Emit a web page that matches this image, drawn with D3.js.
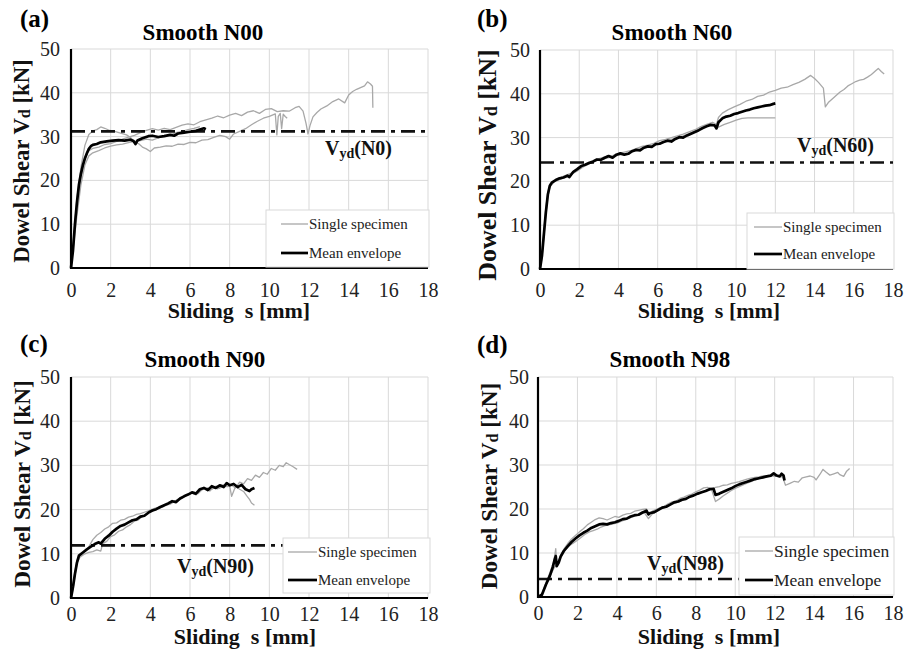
<!DOCTYPE html>
<html>
<head>
<meta charset="utf-8">
<script src="https://cdn.jsdelivr.net/npm/d3@7"></script>
<style>
  body { margin: 0; background: #fff; }
</style>
</head>
<body>
<svg id="chart" width="904" height="650"></svg>
<script>
// ---- data ----
const xTicks = [0, 2, 4, 6, 8, 10, 12, 14, 16, 18];
const yTicks = [0, 10, 20, 30, 40, 50];
const panelLabels = ["(a)", "(b)", "(c)", "(d)"];
const panelTitles = ["Smooth N00", "Smooth N60", "Smooth N90", "Smooth N98"];
const vydNames = ["(N0)", "(N60)", "(N90)", "(N98)"];
const vydValues = [31.2, 24.3, 11.9, 4.1];
const legendLabels = ["Single specimen", "Mean envelope"];

// N00
const a_single1 = [[0,0],[0.15,8],[0.3,16],[0.5,23],[0.7,28],[0.9,30.5],[1.1,31.3],[1.3,31.6],[1.5,32.2],[1.7,31.9],[1.9,31.5],[2.2,31.2],[2.5,30.8],[2.8,30.4],[3.0,29.8],[3.2,28.8],[3.4,28.4],[3.6,27.6],[3.8,27.2],[4.0,26.6],[4.2,27.4],[4.5,27.6],[4.8,27.9],[5.1,27.8],[5.4,28.3],[5.7,28.2],[6.0,28.7],[6.3,28.6],[6.6,29.2],[6.9,29.3],[7.2,29.8],[7.5,30.3],[7.8,30],[8.0,29.4],[8.2,30.6],[8.5,31.2],[8.8,31.8],[9.1,32.7],[9.4,33.5],[9.7,34.2],[10.0,34.6],[10.3,35.2],[10.38,30.4],[10.45,34.6],[10.55,35.3],[10.62,31.8],[10.7,35.1],[10.8,34.6],[10.9,34.2]];
const a_single2 = [[0,0],[0.15,7],[0.3,14],[0.5,21],[0.7,25],[0.9,26.8],[1.1,27.3],[1.4,27.6],[1.7,28.2],[2.0,28.4],[2.3,28.9],[2.6,29.4],[2.9,29.9],[3.2,30.3],[3.5,30.9],[3.8,31.4],[4.1,31.8],[4.4,31.5],[4.7,31.9],[5.0,31.6],[5.3,32.1],[5.6,32.6],[5.9,32.9],[6.2,32.7],[6.5,33.4],[6.8,33.8],[7.1,34.2],[7.4,34.7],[7.7,34.3],[8.0,34.9],[8.3,35.3],[8.6,34.8],[8.9,35.6],[9.2,35.9],[9.5,35.3],[9.8,36.2],[10.1,36.4],[10.4,35.7],[10.7,35.9],[11.0,35.8],[11.3,36.6],[11.5,36.9],[11.7,35.8],[11.85,33],[11.95,30.6],[12.05,32.5],[12.2,34.5],[12.4,35.5],[12.6,36.3],[12.9,37],[13.2,38],[13.5,38.6],[13.8,37.7],[14.0,39.5],[14.2,40.3],[14.4,40.8],[14.6,41.2],[14.8,41.6],[14.95,42.5],[15.1,42],[15.2,41.5],[15.22,36.6]];
const a_single3 = [[0,0],[0.15,6],[0.3,12],[0.5,19],[0.7,23.5],[0.9,25.6],[1.1,26.3],[1.4,26.8],[1.7,27.4],[2.0,27.8],[2.3,28.1],[2.6,28.3],[2.9,28.6],[3.2,28.9],[3.5,29.1],[3.8,29.4],[4.1,29.2],[4.4,29.7],[4.7,30.1],[5.0,30.4],[5.3,30.9],[5.6,31.2],[5.9,31.6],[6.2,31.9],[6.5,32.3]];
const a_mean = [[0,0],[0.1,4],[0.2,10],[0.3,15],[0.4,19],[0.5,21.5],[0.6,23.5],[0.7,25],[0.8,26.2],[0.9,27.2],[1.0,27.8],[1.1,28.1],[1.3,28.3],[1.5,28.7],[1.8,28.9],[2.1,29.1],[2.4,29.2],[2.7,29.1],[3.0,29.3],[3.15,29],[3.25,28.3],[3.35,29.1],[3.6,29.6],[3.9,30.1],[4.1,30.2],[4.4,29.9],[4.7,30.1],[5.0,30.4],[5.2,30.2],[5.4,30.7],[5.7,30.9],[6.0,31.1],[6.3,31.3],[6.5,31.6],[6.7,31.9],[6.8,31.7]];

// N60
const b_single1 = [[0,0],[0.1,3.5],[0.2,9],[0.3,14],[0.4,17.5],[0.5,19.3],[0.7,20.1],[0.9,20.5],[1.1,21],[1.3,21.4],[1.6,21.9],[1.9,22.9],[2.2,23.6],[2.5,24.4],[2.8,24.9],[3.1,25.3],[3.4,25.7],[3.7,25.9],[4.0,26.4],[4.3,26.7],[4.6,27],[4.9,27.5],[5.2,28],[5.5,28.3],[5.8,28.7],[6.1,29.3],[6.4,29.6],[6.7,30],[7.0,30.4],[7.3,30.8],[7.6,31.3],[7.9,31.8],[8.2,32.5],[8.5,33],[8.8,33.5],[9.0,33],[9.1,34.6],[9.3,35.6],[9.6,36.4],[9.9,37],[10.2,37.6],[10.5,38.3],[10.8,38.7],[11.1,39.4],[11.4,39.7],[11.7,40.4],[12.0,40.8],[12.3,41.3],[12.6,41.5],[12.9,42.1],[13.2,42.6],[13.5,43.3],[13.8,44.2],[14.0,43.5],[14.2,42.6],[14.45,41.3],[14.55,37],[14.7,38],[14.9,38.8],[15.1,39.6],[15.3,40.4],[15.5,41],[15.7,41.8],[15.9,42.3],[16.1,42.8],[16.3,43.1],[16.5,43.3],[16.7,43.8],[16.9,44.4],[17.1,45.2],[17.25,45.8],[17.4,45.1],[17.55,44.5]];
const b_single2 = [[0,0],[0.1,2.5],[0.2,7.5],[0.3,12.5],[0.4,16.5],[0.5,18.7],[0.7,19.8],[0.9,20.2],[1.1,20.6],[1.3,21],[1.6,21.6],[1.9,22.4],[2.2,23.3],[2.5,24],[2.8,24.6],[3.1,25],[3.4,25.3],[3.7,25.6],[4.0,26],[4.3,26.2],[4.6,26.6],[4.9,27.1],[5.2,27.6],[5.5,27.9],[5.8,28.3],[6.1,28.8],[6.4,29.2],[6.7,29.6],[7.0,30],[7.3,30.4],[7.6,30.9],[7.9,31.5],[8.2,32],[8.5,32.6],[8.8,33],[9.1,32.4],[9.4,33],[9.7,33.5],[10.0,34],[10.3,34.4],[10.6,34.5],[12.0,34.5]];
const b_mean = [[0,0],[0.1,3],[0.2,8],[0.3,13],[0.4,17],[0.5,19],[0.6,19.7],[0.8,20.3],[1.0,20.7],[1.2,20.9],[1.4,21.3],[1.5,21],[1.7,22.2],[1.9,22.8],[2.1,23.5],[2.3,23.8],[2.5,24.2],[2.7,24.5],[2.9,25],[3.1,24.9],[3.3,25.4],[3.5,25.8],[3.7,25.4],[3.9,26.1],[4.1,26.4],[4.3,26.1],[4.5,26.3],[4.7,26.9],[4.9,27.2],[5.1,27.1],[5.3,27.7],[5.5,28],[5.7,27.9],[5.9,28.5],[6.1,28.6],[6.3,29],[6.5,29.3],[6.7,29.1],[6.9,29.7],[7.1,30.1],[7.3,30],[7.5,30.5],[7.7,30.9],[7.9,31.3],[8.1,31.7],[8.3,32.2],[8.5,32.6],[8.7,32.9],[8.9,32.8],[9.0,32.1],[9.1,33.5],[9.3,34.4],[9.5,34.8],[9.7,35],[9.9,35.4],[10.1,35.6],[10.3,35.9],[10.5,36.2],[10.7,36.4],[10.9,36.7],[11.1,36.9],[11.3,37.1],[11.5,37.3],[11.7,37.4],[11.9,37.7],[12.0,37.8]];

// N90
const c_single1 = [[0,0],[0.1,3],[0.2,6],[0.3,8.5],[0.45,9.8],[0.7,10.5],[0.9,11.6],[1.1,13.2],[1.3,14.2],[1.5,14.8],[1.7,15.6],[1.9,16.1],[2.1,16.9],[2.3,17],[2.5,17.6],[2.7,17.8],[2.9,18.3],[3.1,18.5],[3.3,18.9],[3.5,19.1],[3.7,19.4],[3.9,19.7],[4.1,20.1],[4.3,20.4],[4.5,20.6],[4.7,21.1],[4.9,21.3],[5.1,21.7],[5.3,22.1],[5.5,22.6],[5.7,22.9],[5.9,23.5],[6.1,23.8],[6.3,23.3],[6.5,24.3],[6.7,24.7],[6.9,24.9],[7.1,24.6],[7.3,25.3],[7.5,24.8],[7.7,25.6],[7.9,25.2],[8.1,25.5],[8.3,24.9],[8.5,26.2],[8.7,25.8],[8.9,27],[9.1,26.6],[9.3,27.8],[9.5,27.3],[9.7,28.4],[9.9,28],[10.1,29.3],[10.3,28.9],[10.5,30],[10.7,29.7],[10.85,30.6],[11.0,30.2],[11.2,29.7],[11.4,29.1]];
const c_single2 = [[0,0],[0.1,2],[0.2,5],[0.3,7.8],[0.45,9.2],[0.7,10],[0.9,10.3],[1.1,10.5],[1.3,10.9],[1.5,10.6],[1.6,12.3],[1.8,12.8],[2.0,13.9],[2.2,14.3],[2.4,15.1],[2.6,15.4],[2.8,16.1],[3.0,16.6],[3.2,17.4],[3.4,17.7],[3.6,18.5],[3.8,18.9],[4.0,19.5],[4.2,19.8],[4.4,20.3],[4.6,20.5],[4.8,21.1],[5.0,21.2],[5.2,21.8],[5.4,22.3],[5.6,22.6],[5.8,23.2],[6.0,23.5],[6.2,24],[6.4,23.6],[6.6,24.5],[6.8,24.9],[7.0,24.2],[7.2,25.1],[7.4,24.7],[7.6,25.6],[7.8,25.2],[8.0,25.3],[8.1,23],[8.3,25.3],[8.5,24.6],[8.7,24.1],[8.9,22.9],[9.0,22.3],[9.1,21.5],[9.25,21]];
const c_mean = [[0,0],[0.1,2.5],[0.2,5.5],[0.3,8],[0.4,9.6],[0.6,10.3],[0.8,11],[1.0,11.6],[1.2,12.2],[1.4,12.6],[1.5,12.3],[1.7,13.4],[1.9,14.1],[2.1,15],[2.3,15.7],[2.5,16.3],[2.7,16.6],[2.9,17.1],[3.1,17.6],[3.3,17.8],[3.5,18.4],[3.7,18.6],[3.9,19.3],[4.1,19.8],[4.3,20.1],[4.5,20.6],[4.7,21],[4.9,21.4],[5.1,21.9],[5.3,21.7],[5.5,22.5],[5.7,23],[5.9,23.4],[6.1,23.9],[6.3,23.6],[6.5,24.6],[6.7,24.9],[6.9,24.4],[7.1,25.3],[7.3,24.9],[7.5,25.5],[7.7,25.1],[7.85,26],[8.0,25.5],[8.2,25.8],[8.4,25.1],[8.6,25.6],[8.8,24.6],[9.0,24.2],[9.1,24.6],[9.25,24.9]];

// N98
const d_single1 = [[0,0],[0.2,0.8],[0.4,3.2],[0.6,5.5],[0.8,8],[0.9,11],[0.95,7.5],[1.1,8.9],[1.3,10.8],[1.5,12.1],[1.7,13.2],[1.9,14],[2.1,14.8],[2.3,15.5],[2.5,16.4],[2.7,17],[2.9,17.6],[3.1,18],[3.3,17.8],[3.5,17.5],[3.7,17.9],[3.9,18.3],[4.1,18.1],[4.3,18.6],[4.5,18.9],[4.7,19],[4.9,19.5],[5.1,19.7],[5.3,19.9],[5.5,20],[5.6,18.6],[5.8,19.5],[6.0,19.9],[6.2,20.3],[6.4,20.6],[6.6,21.2],[6.8,21.6],[7.0,21.8],[7.2,22.4],[7.4,22.7],[7.6,23.1],[7.8,23.4],[8.0,23.9],[8.2,24.3],[8.4,24.8],[8.6,24.9],[8.8,24.5],[9.0,24.9],[9.2,25.1],[9.4,25.4],[9.6,25.5],[9.8,25.8],[10.0,26],[10.2,26.2],[10.4,26.5],[10.6,26.8],[10.8,27],[11.0,27.2],[11.2,27.3],[11.4,27.5],[11.6,27.6],[11.8,27.5],[12.0,27.8],[12.2,27.5],[12.4,27.3],[12.55,25.4],[12.8,25.9],[13.0,26.3],[13.2,26.1],[13.4,27.1],[13.6,27.3],[13.8,27.5],[14.0,27.2],[14.1,26.6],[14.3,27.9],[14.45,29],[14.6,28.4],[14.8,27.7],[15.0,28],[15.2,28.3],[15.3,27.8],[15.5,27.4],[15.65,28.6],[15.8,29.2]];
const d_single2 = [[0,0],[0.2,0.6],[0.4,2.6],[0.6,4.6],[0.8,6.5],[1.0,7.8],[1.2,9.4],[1.4,10.8],[1.6,11.7],[1.8,12.3],[2.0,12.9],[2.2,13.6],[2.4,14.3],[2.6,14.8],[2.8,15.1],[3.0,15.4],[3.2,15.9],[3.4,16.2],[3.6,16.4],[3.8,16.6],[4.0,16.8],[4.2,17.2],[4.4,17.5],[4.6,17.9],[4.8,18.2],[5.0,18.5],[5.2,18.9],[5.4,19.1],[5.6,17.8],[5.8,18.9],[6.0,19.4],[6.2,19.9],[6.4,20.3],[6.6,20.7],[6.8,21.1],[7.0,21.4],[7.2,21.7],[7.4,22.1],[7.6,22.5],[7.8,22.9],[8.0,23.3],[8.2,23.6],[8.4,24],[8.6,24.2],[8.8,24.4],[9.0,21.7],[9.2,22.3],[9.4,23],[9.6,23.6],[9.8,24.2],[10.0,24.7],[10.2,25.1],[10.4,25.5],[10.6,25.9],[10.8,26.2],[11.0,26.6],[11.2,26.9],[11.4,27.1],[11.6,27.3],[11.8,27.6],[12.0,27.4],[12.2,27.7],[12.4,27.3],[12.5,26.8]];
const d_mean = [[0,0],[0.2,0.5],[0.4,2.8],[0.6,4.8],[0.75,6.8],[0.85,8.6],[0.9,9.3],[0.95,7],[1.05,7.8],[1.15,9.2],[1.3,10.4],[1.5,11.5],[1.7,12.5],[1.9,13.3],[2.1,14],[2.3,14.6],[2.5,15.1],[2.7,15.7],[2.9,16.1],[3.1,16.5],[3.3,16.6],[3.5,16.5],[3.7,16.8],[3.9,17],[4.1,17.3],[4.3,17.7],[4.5,17.8],[4.7,18.3],[4.9,18.6],[5.1,18.7],[5.3,19.2],[5.5,19.6],[5.6,18.8],[5.7,19.1],[5.9,19.3],[6.1,19.8],[6.3,20.3],[6.5,20.5],[6.7,21],[6.9,21.5],[7.1,21.7],[7.3,22.1],[7.5,22.3],[7.7,22.8],[7.9,23.1],[8.1,23.5],[8.3,23.8],[8.5,24.1],[8.7,24.5],[8.9,24.6],[9.0,23.2],[9.2,23.5],[9.4,23.9],[9.6,24.3],[9.8,24.7],[10.0,25.2],[10.2,25.6],[10.4,25.9],[10.6,26.2],[10.8,26.5],[11.0,26.8],[11.2,27],[11.4,27.2],[11.6,27.4],[11.8,27.6],[11.95,28.1],[12.1,27.6],[12.25,27.4],[12.35,28],[12.45,27.6],[12.5,26.5]];

const singles = [[a_single1, a_single2, a_single3], [b_single1, b_single2], [c_single1, c_single2], [d_single1, d_single2]];
const means = [a_mean, b_mean, c_mean, d_mean];

// ---- layout of the four panels (pixels) ----
const panels = [
  {left: 71,  right: 428, top: 49,  bottom: 268, tickY: 29, tickX: 11, lab: [20, 27],   title: [203, 40],  yt: [29, 161],  ytLen: 204, xt: [239, 318], vyd: [325, 155],
   leg: {x: 266, y: 210, w: 163, h: 57, l0: 15, l1: 42, r1: 14, r2: 43, fs: 15}},
  {left: 540, right: 893, top: 50,  bottom: 269, tickY: 28, tickX: 10, lab: [477, 27],  title: [672, 40],  yt: [496, 165], ytLen: 232, xt: [709, 318], vyd: [797, 152],
   leg: {x: 747, y: 213, w: 147, h: 56, l0: 7, l1: 35, r1: 14, r2: 41, fs: 15}},
  {left: 71,  right: 428, top: 377, bottom: 598, tickY: 23, tickX: 11, lab: [20, 352],  title: [205, 367], yt: [30, 484],  ytLen: 208, xt: [245, 644], vyd: [177, 573],
   leg: {x: 283, y: 538, w: 147, h: 55, l0: 5, l1: 34, r1: 14, r2: 42, fs: 15}},
  {left: 538, right: 893, top: 377, bottom: 597, tickY: 23, tickX: 9,  lab: [477, 353], title: [670, 367], yt: [497, 486], ytLen: 207, xt: [709, 644], vyd: [647, 570],
   leg: {x: 739, y: 537, w: 155, h: 58, l0: 6, l1: 34, r1: 14, r2: 43, fs: 17.5}}
];

const SERIF = "'Liberation Serif', 'Times New Roman', serif";
const svg = d3.select("#chart");

panels.forEach((p, i) => {
  const x = d3.scaleLinear().domain([0, 18]).range([p.left, p.right]);
  const y = d3.scaleLinear().domain([0, 50]).range([p.bottom, p.top]);
  const g = svg.append("g");

  // grid
  g.append("g").selectAll("line").data(xTicks.slice(1)).join("line")
    .attr("x1", d => x(d)).attr("x2", d => x(d))
    .attr("y1", y(0)).attr("y2", y(50))
    .attr("stroke", "#d9d9d9").attr("stroke-width", 1);
  g.append("g").selectAll("line").data(yTicks.slice(1)).join("line")
    .attr("x1", x(0)).attr("x2", x(18))
    .attr("y1", d => y(d)).attr("y2", d => y(d))
    .attr("stroke", "#d9d9d9").attr("stroke-width", 1);

  // tick labels through d3 axes
  const gx = g.append("g")
    .attr("transform", `translate(0,${p.bottom})`)
    .call(d3.axisBottom(x).tickValues(xTicks).tickSize(0).tickFormat(d3.format("d")));
  gx.select(".domain").remove();
  gx.selectAll("text").attr("y", p.tickY).attr("dy", null)
    .attr("font-family", SERIF).attr("font-size", 20).attr("fill", "#222");

  const gy = g.append("g")
    .attr("transform", `translate(${p.left},0)`)
    .call(d3.axisLeft(y).tickValues(yTicks).tickSize(0).tickFormat(d3.format("d")));
  gy.select(".domain").remove();
  gy.selectAll("text").attr("x", -p.tickX)
    .attr("font-family", SERIF).attr("font-size", 20).attr("fill", "#222");

  const line = d3.line().x(d => x(d[0])).y(d => y(d[1]));

  // single specimens
  g.append("g").selectAll("path").data(singles[i]).join("path")
    .attr("d", line)
    .attr("fill", "none").attr("stroke", "#a8a8a8").attr("stroke-width", 1.3)
    .attr("stroke-linejoin", "round");

  // yield reference line
  g.append("line")
    .attr("x1", x(0)).attr("x2", x(18))
    .attr("y1", y(vydValues[i])).attr("y2", y(vydValues[i]))
    .attr("stroke", "#111").attr("stroke-width", 2.6)
    .attr("stroke-dasharray", "14,6,4,6");

  // mean envelope
  g.append("path").datum(means[i])
    .attr("d", line)
    .attr("fill", "none").attr("stroke", "#000").attr("stroke-width", 2.7)
    .attr("stroke-linejoin", "round");

  // axis lines
  g.append("line").attr("x1", x(0)).attr("x2", x(0)).attr("y1", y(50)).attr("y2", y(0) + 1)
    .attr("stroke", "#000").attr("stroke-width", 2.2);
  g.append("line").attr("x1", x(0) - 1).attr("x2", x(18)).attr("y1", y(0)).attr("y2", y(0))
    .attr("stroke", "#000").attr("stroke-width", 2.2);

  // legend
  const L = p.leg;
  const lg = g.append("g").attr("transform", `translate(${L.x},${L.y})`);
  lg.append("rect").attr("width", L.w).attr("height", L.h)
    .attr("fill", "#fff").attr("stroke", "#d9d9d9").attr("stroke-width", 1);
  [[L.r1, "#a8a8a8", 1.3], [L.r2, "#000", 2.7]].forEach((r, k) => {
    lg.append("line").attr("x1", L.l0).attr("x2", L.l1).attr("y1", r[0]).attr("y2", r[0])
      .attr("stroke", r[1]).attr("stroke-width", r[2]);
    lg.append("text").attr("x", L.l1 + 1).attr("y", r[0]).attr("dy", "0.33em")
      .attr("font-family", SERIF).attr("font-size", L.fs).attr("fill", "#222")
      .text(legendLabels[k]);
  });

  // yield label
  const vt = g.append("text").attr("x", p.vyd[0]).attr("y", p.vyd[1])
    .attr("font-family", SERIF).attr("font-size", 20).attr("font-weight", "bold").attr("fill", "#111");
  vt.append("tspan").text("V");
  vt.append("tspan").attr("font-size", 14).attr("dy", 3).text("yd");
  vt.append("tspan").attr("dy", -3).text(vydNames[i]);

  // panel letter and title
  g.append("text").attr("x", p.lab[0]).attr("y", p.lab[1])
    .attr("font-family", SERIF).attr("font-size", 25).attr("font-weight", "bold")
    .text(panelLabels[i]);
  g.append("text").attr("x", p.title[0]).attr("y", p.title[1]).attr("text-anchor", "middle")
    .attr("font-family", SERIF).attr("font-size", 23).attr("font-weight", "bold")
    .text(panelTitles[i]);

  // axis titles
  g.append("text").attr("x", p.xt[0]).attr("y", p.xt[1]).attr("text-anchor", "middle")
    .attr("font-family", SERIF).attr("font-size", 22).attr("font-weight", "bold").attr("fill", "#111")
    .attr("xml:space", "preserve")
    .text("Sliding  s [mm]");
  const yt = g.append("text")
    .attr("transform", `translate(${p.yt[0]},${p.yt[1]}) rotate(-90)`)
    .attr("text-anchor", "middle")
    .attr("font-family", SERIF).attr("font-size", 23 * p.ytLen / 206).attr("font-weight", "bold").attr("fill", "#111");
  yt.append("tspan").text("Dowel Shear V");
  yt.append("tspan").attr("font-size", "0.7em").attr("dy", 1).text("d");
  yt.append("tspan").attr("dy", -1).text(" [kN]");
});
</script>
</body>
</html>
